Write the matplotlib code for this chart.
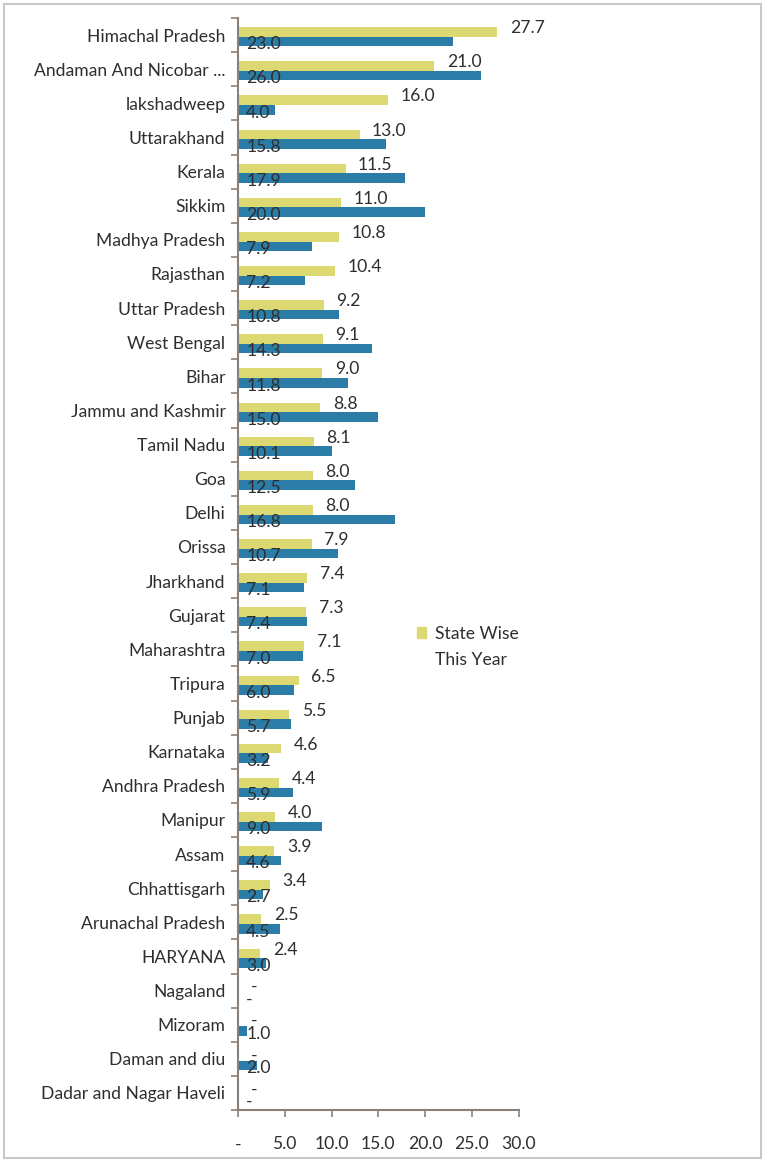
import numpy as np
import matplotlib.pyplot as plt
from matplotlib.patches import Rectangle, Patch

plt.rcParams['font.family'] = ['Lato', 'DejaVu Sans']

states = ['Himachal Pradesh', 'Andaman And Nicobar ...', 'lakshadweep', 'Uttarakhand',
          'Kerala', 'Sikkim', 'Madhya Pradesh', 'Rajasthan', 'Uttar Pradesh', 'West Bengal',
          'Bihar', 'Jammu and Kashmir', 'Tamil Nadu', 'Goa', 'Delhi', 'Orissa', 'Jharkhand',
          'Gujarat', 'Maharashtra', 'Tripura', 'Punjab', 'Karnataka', 'Andhra Pradesh',
          'Manipur', 'Assam', 'Chhattisgarh', 'Arunachal Pradesh', 'HARYANA', 'Nagaland',
          'Mizoram', 'Daman and diu', 'Dadar and Nagar Haveli']
state_wise = [27.7, 21.0, 16.0, 13.0, 11.5, 11.0, 10.8, 10.4, 9.2, 9.1, 9.0, 8.8, 8.1, 8.0,
              8.0, 7.9, 7.4, 7.3, 7.1, 6.5, 5.5, 4.6, 4.4, 4.0, 3.9, 3.4, 2.5, 2.4, 0, 0, 0, 0]
this_year = [23.0, 26.0, 4.0, 15.8, 17.9, 20.0, 7.9, 7.2, 10.8, 14.3, 11.8, 15.0, 10.1, 12.5,
             16.8, 10.7, 7.1, 7.4, 7.0, 6.0, 5.7, 3.2, 5.9, 9.0, 4.6, 2.7, 4.5, 3.0, 0, 1.0, 2.0, 0]
xticks = [0, 5, 10, 15, 20, 25, 30]
xlabels = ['-', '5.0', '10.0', '15.0', '20.0', '25.0', '30.0']

yellow = '#dcd973'
blue = '#2b7ca6'
axcol = '#8a8078'
txt = '#2e2e2e'
fs = 12.6

fig = plt.figure(figsize=(7.65, 11.62), dpi=100)
ax = fig.add_axes([0.311, 1 - 1110 / 1162, 0.367, 1092 / 1162])

n = len(states)
y = np.arange(n)
h = 0.28
ax.barh(y - h / 2 + 0.05, state_wise, height=h, color=yellow, label='State Wise')
ax.barh(y + h / 2 + 0.05, this_year, height=h, color=blue, label='This Year')

for i in range(n):
    sv = state_wise[i]
    tv = this_year[i]
    s1 = '%.1f' % sv if sv > 0 else '-'
    s2 = '%.1f' % tv if tv > 0 else '-'
    y1 = i - 0.2 if sv > 0 else i - 0.1
    ax.annotate(s1, (sv, y1), xytext=(9, 0), textcoords='offset points',
                ha='left', va='center', fontsize=fs, color=txt, annotation_clip=False)
    ax.annotate(s2, (0, i + 0.27), xytext=(6, 0), textcoords='offset points',
                ha='left', va='center', fontsize=fs, color=txt, annotation_clip=False)

ax.set_xlim(0, 30)
ax.set_ylim(n - 0.5, -0.5)
ax.set_yticks(y)
ax.set_yticklabels(states, fontsize=fs, color=txt)
ax.set_yticks(np.arange(n + 1) - 0.5, minor=True)
ax.tick_params(axis='y', which='major', length=0, pad=9)
ax.tick_params(axis='y', which='minor', length=5, color=axcol, width=1.2)
ax.set_xticks(xticks)
ax.set_xticklabels(xlabels, fontsize=fs, color=txt)
ax.tick_params(axis='x', length=5, color=axcol, width=1.2, pad=14)
for side in ['top', 'right']:
    ax.spines[side].set_visible(False)
for side in ['left', 'bottom']:
    ax.spines[side].set_color(axcol)
    ax.spines[side].set_linewidth(1.5)

handles = [Patch(color=yellow), Patch(color='none')]
ax.legend(handles, ['State Wise', 'This Year'], loc='center left', bbox_to_anchor=(0.58, 0.424),
          frameon=False, fontsize=fs, handlelength=0.55, handleheight=0.55, handletextpad=0.5,
          labelspacing=0.6, labelcolor=txt)

fig.patches.append(Rectangle((4 / 765, 4 / 1162), 757 / 765, 1154 / 1162, transform=fig.transFigure,
                             fill=False, edgecolor='#c8c8c8', linewidth=1.5))

fig.savefig('out.png', dpi=100)
